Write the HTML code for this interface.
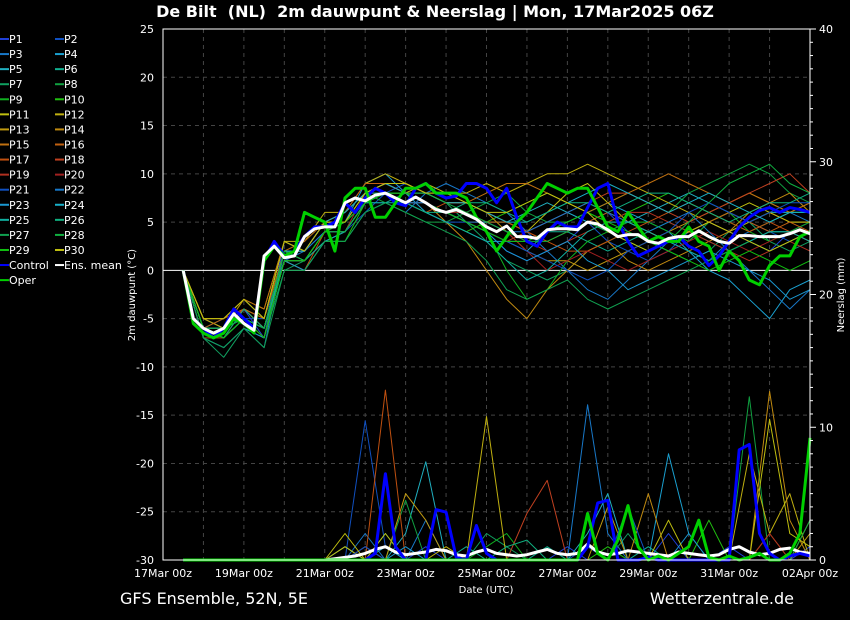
<!DOCTYPE html>
<html><head><meta charset="utf-8">
<style>
body{margin:0;background:#000;}
svg{display:block;font-family:"DejaVu Sans","Liberation Sans",sans-serif;}
</style></head>
<body>
<svg id="c" width="850" height="620" viewBox="0 0 850 620">
<rect width="850" height="620" fill="#000"/>
<text x="435" y="17" fill="#fff" font-size="16" font-weight="bold" text-anchor="middle" style="white-space:pre" xml:space="preserve">De Bilt  (NL)  2m dauwpunt &amp; Neerslag | Mon, 17Mar2025 06Z</text>
<text x="120" y="604" fill="#fff" font-size="16">GFS Ensemble, 52N, 5E</text>
<text x="794" y="604" fill="#fff" font-size="16" text-anchor="end">Wetterzentrale.de</text>
<text x="486" y="593" fill="#fff" font-size="10" text-anchor="middle">Date (UTC)</text>
<text transform="translate(135,295) rotate(-90)" fill="#fff" font-size="10" text-anchor="middle">2m dauwpunt (°C)</text>
<text transform="translate(844,295) rotate(-90)" fill="#fff" font-size="10" text-anchor="middle">Neerslag (mm)</text>
<g id="grid"></g><g id="series"></g><g id="axes"></g><g id="legend"></g>
</svg>
<script>
const xLabels=["17Mar 00z","19Mar 00z","21Mar 00z","23Mar 00z","25Mar 00z","27Mar 00z","29Mar 00z","31Mar 00z","02Apr 00z"];
const yTicks=[25,20,15,10,5,0,-5,-10,-15,-20,-25,-30];
const y2Ticks=[40,30,20,10,0];
const meanT=[0,-5,-6,-6.5,-6,-4.5,-5.5,-6.2,1.5,2.5,1.3,1.5,3.5,4.3,4.5,4.5,7,7.5,7.2,7.8,8,7.5,7,7.6,7,6.3,6,6.3,5.8,5.3,4.5,4,4.6,3.5,3.5,3.3,4.2,4.3,4.3,4.2,5,4.8,4.2,3.5,3.7,3.7,3,2.8,3.3,3.5,3.5,4.1,3.5,3,2.8,3.6,3.6,3.5,3.5,3.5,3.8,4.2,3.8];
const controlT=[0,-5,-6,-7,-6,-4,-5,-6,1,3,1.5,2,3.5,4.5,4.5,5,7,6,7.5,8.5,8,7,6.7,8.5,9,8,7.5,7.7,9,9,8.5,7,8.5,5.5,3,2.5,4,5,4.5,4.5,6.5,8.5,9,5,3,1.5,2,2.5,3,3.5,2.5,2,0.5,1.5,3,4.5,5.5,6.2,6.5,6,6.5,6.3,6];
const operT=[0,-5.5,-6.5,-7,-6.5,-5,-5.5,-6.5,1,2.5,1.5,2,6,5.5,5,2,7.5,8.5,8.5,5.5,5.5,7,8.5,8.5,9,8,8,8,7.5,5.5,4,2,3.5,5,6,7.5,9,8.5,8,8.5,8.5,6.5,4.5,4,6,4.5,3,3.5,3,3,4.5,3,2.5,0,2,1,-1,-1.5,0.5,1.5,1.5,3.5,4];
const meanP=[0,0,0,0,0,0,0,0,0,0,0,0,0,0,0,0.1,0.2,0.3,0.5,0.8,1,0.6,0.4,0.5,0.6,0.8,0.7,0.4,0.3,0.6,0.8,0.5,0.4,0.3,0.4,0.6,0.8,0.5,0.4,0.5,1.2,0.6,0.4,0.5,0.7,0.6,0.5,0.4,0.3,0.6,0.5,0.4,0.3,0.4,0.8,1,0.6,0.4,0.5,0.8,0.9,0.6,0.5];
const controlP=[0,0,0,0,0,0,0,0,0,0,0,0,0,0,0,0,0,0,0,0.5,6.5,1,0,0,0,3.8,3.6,0.2,0,2.6,0.5,0,0,0,0,0,0,0,0,0,1,4.3,4.5,0,0,0,0.2,0,0,0,0,0,0,0,0,8.3,8.7,2,0.5,0,0.3,0.5,0.3];
const operP=[0,0,0,0,0,0,0,0,0,0,0,0,0,0,0,0,0,0,0,0,0,0,0,0,0,0,0,0,0,0,0,0,0,0,0,0,0,0,0,0,3.5,0.5,0,1.5,4.1,1,0,0.3,0,0.5,1,3,0.2,0,0.3,0,0.2,0.5,0,0,0.5,2,9.2];
const memT=[
[0,-6,-7,-4,-7,3,2,5,6,8,9,8,7,6,5,4,2,1,2,3,5,6,4,3,2,3,5,4,3,2,4,5],
[0,-5,-6,-5,-5,1,0,3,4,6,8,9,8,7,7,6,5,4,5,6,5,3,2,1,2,4,5,6,5,4,3,4],
[0,-7,-8,-6,-8,2,1,4,5,7,7,6,8,9,8,7,6,4,2,0,-2,-3,-1,1,3,2,1,3,4,5,6,5],
[0,-6,-5,-3,-5,3,2,5,5,9,10,8,6,5,4,3,3,2,4,5,6,7,6,5,4,2,0,-1,-3,-5,-2,-1],
[0,-6,-7,-5,-6,2,2,4,4,7,8,7,7,6,6,5,5,6,7,6,5,4,5,6,7,8,7,6,5,6,6,6],
[0,-5,-6,-4,-6,1,1,3,3,6,7,8,7,6,5,4,3,3,4,4,3,2,3,4,5,4,3,2,3,4,4,3],
[0,-7,-9,-6,-7,0,1,3,4,8,9,9,8,7,5,3,1,0,-1,0,2,3,4,3,2,1,2,4,5,3,2,3],
[0,-6,-7,-5,-7,2,3,5,6,8,7,6,5,5,6,7,8,6,5,5,6,7,8,7,6,8,9,10,11,10,8,7],
[0,-6,-6,-5,-6,2,1,4,4,7,8,8,7,6,5,4,0,-3,-2,1,3,4,5,5,4,3,5,6,4,3,4,5],
[0,-7,-7,-5,-7,1,0,3,3,7,8,7,6,5,4,5,6,7,8,7,6,5,6,7,8,7,6,5,4,5,6,6],
[0,-5,-6,-4,-5,3,2,5,5,8,9,8,9,8,7,6,5,4,6,8,9,7,5,4,3,4,5,6,7,6,5,5],
[0,-5,-5,-3,-4,3,3,6,6,9,10,9,8,8,8,9,8,9,10,10,11,10,9,8,7,6,5,4,5,6,5,5],
[0,-5,-6,-3,-5,2,2,5,5,8,9,8,8,7,7,6,4,2,1,1,0,1,2,3,4,5,6,7,8,7,6,7],
[0,-6,-6,-4,-6,2,1,4,5,8,8,8,7,5,3,0,-3,-5,-2,0,2,3,1,0,1,2,3,4,6,7,8,6],
[0,-5,-5,-3,-4,3,2,5,6,8,9,9,8,7,7,8,9,9,8,7,6,7,8,9,10,9,8,7,8,7,6,7],
[0,-6,-5,-4,-5,2,3,5,6,9,9,8,7,6,6,5,5,4,3,4,5,6,5,4,3,4,5,6,5,4,5,4],
[0,-6,-7,-4,-6,1,0,4,5,7,8,7,6,7,7,6,5,4,3,2,2,3,4,5,6,7,6,5,4,5,4,3],
[0,-6,-6,-4,-6,2,2,5,5,8,8,7,7,6,5,4,3,4,5,6,7,8,8,7,6,5,6,7,8,9,10,8],
[0,-6,-7,-5,-6,1,1,4,4,7,8,8,7,6,5,5,4,3,2,3,4,5,6,6,5,4,3,2,1,2,3,2],
[0,-7,-7,-5,-7,1,1,3,4,8,9,8,7,6,6,5,4,2,0,1,2,1,0,1,2,3,4,3,2,3,4,3],
[0,-6,-7,-5,-6,2,2,4,5,7,8,7,6,5,5,4,3,2,1,0,-1,0,2,3,4,6,7,6,5,6,7,7],
[0,-6,-6,-5,-6,1,2,4,4,7,8,7,7,6,5,5,4,4,5,6,7,6,5,4,5,6,4,2,0,-2,-4,-2],
[0,-7,-8,-6,-7,1,0,3,4,7,8,8,7,6,5,4,2,1,2,3,1,0,-2,-1,0,1,2,1,0,-1,-3,-2],
[0,-6,-6,-5,-6,2,2,5,6,8,9,8,8,7,7,6,5,5,6,7,8,9,8,7,6,7,8,7,6,5,6,6],
[0,-6,-7,-5,-6,1,1,3,4,7,7,7,6,5,4,3,1,-1,0,2,4,5,5,4,3,2,1,2,3,4,4,3],
[0,-6,-7,-4,-6,2,1,4,5,8,8,7,6,6,7,7,6,5,6,7,7,6,7,8,8,7,6,5,6,7,7,8],
[0,-7,-8,-6,-8,0,0,3,3,6,7,6,5,4,3,1,-2,-3,-2,-1,-3,-4,-3,-2,-1,0,1,2,3,2,3,4],
[0,-6,-6,-5,-6,2,1,4,4,7,8,8,8,7,6,5,4,3,3,4,5,4,3,2,3,5,7,9,10,11,9,8],
[0,-6,-7,-5,-7,1,1,4,5,7,8,8,7,6,5,4,3,3,4,5,6,5,4,3,2,1,0,1,2,1,0,1],
[0,-5,-5,-3,-5,3,2,5,5,8,9,9,8,8,7,6,6,7,8,7,6,4,3,2,3,4,5,4,3,2,3,4]];
const memP=[
[0,0,0,0,0,0,0,0,0,1,0,0,1,0,0,0,0,0,0,1,0,0,0,0,2,0,0,1,0,0,0,1],
[0,0,0,0,0,0,0,0,0,10.5,1,0,0,0,0,0,0,0,0,0,1,0,0,0,0,0,0,0,0,0,0,0],
[0,0,0,0,0,0,0,0,0,2,0,0,3,0,0,0,0,0,0,0,11.7,2,0,0,0,0,0,0,0,0,0,0],
[0,0,0,0,0,0,0,0,0,0,1,0,0,0,0,0,0,0,0,0,0,0,0,0,8,2,0,0,0,0,0,0],
[0,0,0,0,0,0,0,0,1,0,0,2,7.4,0,0,0,0,0,0,0,2,5,0,0,0,0,0,0,0,0,0,0],
[0,0,0,0,0,0,0,0,0,0,2,0,0,0,1,0,0,0,1,0,0,0,0,1,0,0,0,0,0,0,0,0],
[0,0,0,0,0,0,0,0,0,0,0,0,0,0,0,2,1,0,0,0,0,0,2,0,0,0,0,0,0,0,0,0],
[0,0,0,0,0,0,0,0,0,0,0,4.5,0,0,0,0,0,0,0,0,0,0,0,0,0,0,0,0,12.3,0,0,0],
[0,0,0,0,0,0,0,0,0,0,0,0,0,0,0,1,2,0,0,0,0,0,0,0,0,0,0,0,0,0,0,3],
[0,0,0,0,0,0,0,0,0,0,0,0,0,0,0,0,0,0,0,0,0,1,0,0,0,0,3,0,0,0,0,0],
[0,0,0,0,0,0,0,0,1,0,2,0,0,0,0,0,0,0,0,0,0,0,0,0,0,0,0,0,0,0,0,0],
[0,0,0,0,0,0,0,0,0,0,0,0,0,1,0,10.8,0,0,0,0,0,0,0,0,0,0,0,0,8,2,5,0],
[0,0,0,0,0,0,0,0,0,0,0,5,3,0,0,0,0,0,0,0,0,4,0,0,0,0,0,0,0,0,0,2],
[0,0,0,0,0,0,0,0,0,0,0,0,0,0,0,0,0,0,0,0,0,0,0,5,0,0,0,0,0,12.7,3,0],
[0,0,0,0,0,0,0,0,0,0,0,0,0,0,0,0,0,0,0,0,0,0,0,0,0,0,0,0,0,2,0,0],
[0,0,0,0,0,0,0,0,0,1,0,0,0,0,0,0,0,0,0,0,0,0,0,0,0,0,0,0,0,0,0,0],
[0,0,0,0,0,0,0,0,0,0,12.8,0,0,0,0,0,0,0,0,0,0,0,0,0,0,0,0,0,0,0,0,0],
[0,0,0,0,0,0,0,0,0,0,0,0,0,0,0,0,0,3.5,6,0,0,0,0,0,0,0,0,0,0,0,0,3],
[0,0,0,0,0,0,0,0,0,0,0,0,0,0,0,0,0,0,0,0,0,0,0,0,0,0,0,0,0,2,0,0],
[0,0,0,0,0,0,0,0,0,0,0,0,0,0,0,0,0,0,0,0,0,0,0,0,0,0,0,0,0,0,0,0],
[0,0,0,0,0,0,0,0,0,1,0,0,0,0,0,0,0,0,0,0,0,0,4,0,0,0,0,0,0,0,0,0],
[0,0,0,0,0,0,0,0,0,0,0,0,0,0,0,0,0,0,0,0,0,0,0,0,0,0,0,0,0,0,0,0],
[0,0,0,0,0,0,0,0,0,0,0,1,0,0,0,0,0,0,0,0,0,0,0,0,0,2,0,0,0,0,0,0],
[0,0,0,0,0,0,0,0,0,0,0,0,0,0,0,0,0,0,0,0,0,0,0,0,0,0,0,0,0,0,0,0],
[0,0,0,0,0,0,0,0,0,0,0,0,0,0,0,0,0,0,0,0,0,0,0,0,0,0,0,0,0,0,0,0],
[0,0,0,0,0,0,0,0,0,0,0,0,0,0,0,0,1,1.5,0,0,0,0,0,0,0,0,0,0,0,0,0,0],
[0,0,0,0,0,0,0,0,0,0,0,0,0,0,0,0,0,0,0,0,0,0,0,0,0,0,0,0,0,0,0,0],
[0,0,0,0,0,0,0,0,0,0,0,0,0,0,0,0,0,0,0,0,0,0,0,0,0,0,0,0,0,0,0,3],
[0,0,0,0,0,0,0,0,0,0,0,0,0,0,0,0,0,0,0,0,0,0,0,0,0,0,0,0,0,0,0,0],
[0,0,0,0,0,0,0,0,2,0,0,0,0,0,0,0,0,0,0,0,0,0,0,0,3,0,0,0,0,10.6,2,1]];
const memColors=["#2040d8","#1050c0","#1878c8","#1aa0d0","#20b0c0","#10b090","#10a060","#10a040","#10b020","#20c010","#c0c010","#c0b010","#c09a10","#c08a10","#c07010","#c06010","#c05010","#c04020","#b03020","#a02020","#1050c0","#1878c8","#1a98d0","#18b0c8","#10b0a0","#10b080","#10a050","#10b040","#10c010","#c0c010"];
const NS="http://www.w3.org/2000/svg";
const X0=163,X1=810,Y0=29,Y1=560;
const xDay=d=>X0+(X1-X0)*d/16;
const yT=v=>Y0+(25-v)*(Y1-Y0)/55;
const yP=v=>Y1-v*(Y1-Y0)/40;
function mk(tag,at,parent){const e=document.createElementNS(NS,tag);for(const k in at)e.setAttribute(k,at[k]);parent.appendChild(e);return e;}
const grid=document.getElementById('grid'),ser=document.getElementById('series'),ax=document.getElementById('axes'),lg=document.getElementById('legend');
mk('rect',{x:X0,y:Y0,width:X1-X0,height:Y1-Y0,fill:'none',stroke:'#fff','stroke-width':1},ax);
for(let d=1;d<16;d++){const l=mk('line',{x1:xDay(d),x2:xDay(d),y1:Y0,y2:Y1,stroke:'#444','stroke-dasharray':'4,4'},grid);

}
yTicks.forEach(v=>{if(v<25&&v>-30&&v!==0){const l=mk('line',{x1:X0,x2:X1,y1:yT(v),y2:yT(v),stroke:'#444','stroke-dasharray':'4,4'},grid);

}
const t=mk('text',{x:X0-9,y:yT(v)+4,fill:'#fff','font-size':11,'text-anchor':'end'},ax);t.textContent=v;

});
mk('line',{x1:X0,x2:X1,y1:yT(0),y2:yT(0),stroke:'#fff','stroke-width':1},grid);
for(let v=0;v<=40;v++){mk('line',{x1:X1,x2:X1+(v%10===0?6:3),y1:yP(v),y2:yP(v),stroke:'#fff'},ax);}
y2Ticks.forEach(v=>{const t=mk('text',{x:X1+9,y:yP(v)+4,fill:'#fff','font-size':11},ax);t.textContent=v;

});
xLabels.forEach((s,i)=>{const t=mk('text',{x:xDay(i*2),y:Y1+17,fill:'#fff','font-size':11,'text-anchor':'middle'},ax);t.textContent=s;

});
function line(arr,step,yf,col,w,name){const pts=arr.map((v,i)=>xDay(0.5+i*step).toFixed(1)+','+yf(v).toFixed(1)).join(' ');
const p=mk('polyline',{points:pts,fill:'none',stroke:col,'stroke-width':w,'stroke-linejoin':'round'},ser);

}
memT.forEach((a,i)=>line(a,0.5,yT,memColors[i],1,'member-dewpoint-line'));
memP.forEach((a,i)=>line(a,0.5,yP,memColors[i],1,'member-precip-line'));
line(meanP,0.25,yP,'#fff',3,'mean-precip-line');
line(controlP,0.25,yP,'#0000ff',3,'control-precip-line');
line(operP,0.25,yP,'#00d000',3,'oper-precip-line');
line(controlT,0.25,yT,'#0000ff',3,'control-dewpoint-line');
line(operT,0.25,yT,'#00d000',3,'oper-dewpoint-line');
line(meanT,0.25,yT,'#fff',3,'mean-dewpoint-line');
const names=[];for(let i=1;i<=30;i++)names.push(['P'+i,memColors[i-1]]);
names.push(['Control','#0000ff'],['Ens. mean','#fff'],['Oper','#00d000']);
names.forEach((n,i)=>{const r=Math.floor(i/2),c=i%2;const x=c?55:0,y=39+r*15.07;
const g=mk('g',{},lg);


mk('line',{x1:x,x2:x+9,y1:y,y2:y,stroke:n[1],'stroke-width':2},g);
const t=mk('text',{x:x+9,y:y+4,fill:'#fff','font-size':11},g);t.textContent=n[0];});
</script>
</body></html>
